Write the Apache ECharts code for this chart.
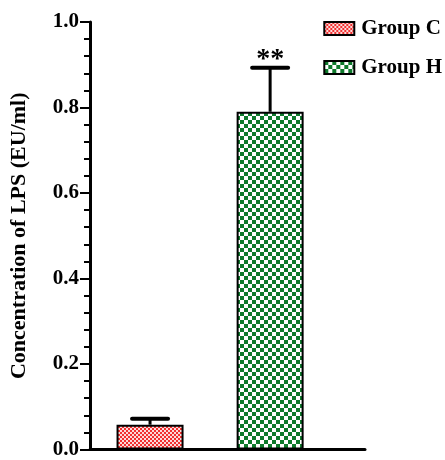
<!DOCTYPE html>
<html><head><meta charset="utf-8">
<script src="https://cdn.jsdelivr.net/npm/echarts@6/dist/echarts.min.js"></script>
<style>html,body{margin:0;padding:0;background:#fff}#c{width:445px;height:460px}</style>
</head><body><div id="c"></div>
<script>
var groups = ['Group C', 'Group H'];
var positions = [0.5, 1.5];
var means = [0.058, 0.79];
var errUpper = [0.072, 0.893];
var marks = ['', '**'];
var yTicks = [0, 0.2, 0.4, 0.6, 0.8, 1.0];

function makePattern(cell, c1, c2) {
  var cv = document.createElement('canvas');
  cv.width = cell * 2; cv.height = cell * 2;
  var ctx = cv.getContext('2d');
  ctx.fillStyle = c2; ctx.fillRect(0, 0, cell * 2, cell * 2);
  ctx.fillStyle = c1;
  ctx.fillRect(0, 0, cell, cell);
  ctx.fillRect(cell, cell, cell, cell);
  return cv;
}
var redPat = {image: makePattern(2, '#f23030', '#fcdada'), repeat: 'repeat'};
var greenPat = {image: makePattern(4, '#0e7a2c', '#ffffff'), repeat: 'repeat'};
var fills = [redPat, greenPat];

var font = '"Liberation Serif", "Times New Roman", serif';
var chart = echarts.init(document.getElementById('c'), null, {renderer: 'canvas'});

var series = groups.map(function (g, i) {
  return {
    name: g, type: 'bar', barWidth: 67, barGap: '-100%',
    data: [[positions[i], means[i]]],
    itemStyle: {color: fills[i], borderColor: '#000', borderWidth: 2},
    z: 3
  };
});
series.push({
  type: 'custom', z: 2, silent: true,
  data: positions.map(function (p, i) { return [p, means[i], errUpper[i], i]; }),
  renderItem: function (params, api) {
    var x = api.value(0), m = api.value(1), up = api.value(2), idx = api.value(3);
    var pm = api.coord([x, m]), pu = api.coord([x, up]);
    var hw = 18;
    var children = [
      {type: 'line', shape: {x1: pm[0], y1: pm[1], x2: pu[0], y2: pu[1]}, style: {stroke: '#000', lineWidth: 3}},
      {type: 'line', shape: {x1: pu[0] - hw, y1: pu[1], x2: pu[0] + hw, y2: pu[1]}, style: {stroke: '#000', lineWidth: 4, lineCap: 'round'}}
    ];
    if (marks[idx]) {
      children.push({type: 'text', style: {text: marks[idx], x: pu[0], y: pu[1] + 6, align: 'center', verticalAlign: 'bottom', font: 'bold 28px ' + font, fill: '#000'}});
    }
    return {type: 'group', children: children};
  }
});

chart.setOption({
  animation: false,
  backgroundColor: '#fff',
  grid: {left: 90, right: 80, top: 22, bottom: 8, containLabel: false},
  legend: {
    orient: 'vertical', right: 3, top: 18, padding: 0, icon: 'rect', itemWidth: 30, itemHeight: 13, itemGap: 18,
    data: groups,
    itemStyle: {borderColor: '#000', borderWidth: 2},
    textStyle: {fontFamily: font, fontWeight: 'bold', fontSize: 21, color: '#000', padding: [0, 0, 0, 2]}
  },
  xAxis: {
    type: 'value', min: 0, max: 2.29,
    axisLine: {show: true, onZero: false, lineStyle: {color: '#000', width: 3}},
    axisTick: {show: false}, axisLabel: {show: false}, splitLine: {show: false}
  },
  yAxis: {
    type: 'value', min: yTicks[0], max: yTicks[yTicks.length - 1], interval: 0.2,
    name: 'Concentration of LPS (EU/ml)', nameLocation: 'middle', nameGap: 60,
    nameTextStyle: {fontFamily: font, fontWeight: 'bold', fontSize: 22, color: '#000'},
    axisLine: {show: true, lineStyle: {color: '#000', width: 3}},
    axisTick: {show: true, length: 10, lineStyle: {color: '#000', width: 2}},
    minorTick: {show: true, splitNumber: 5, length: 6, lineStyle: {color: '#000', width: 2}},
    axisLabel: {fontFamily: font, fontWeight: 'bold', fontSize: 21, color: '#000', margin: 11,
      formatter: function (v) { return v.toFixed(1); }},
    splitLine: {show: false}
  },
  series: series
});
</script></body></html>
